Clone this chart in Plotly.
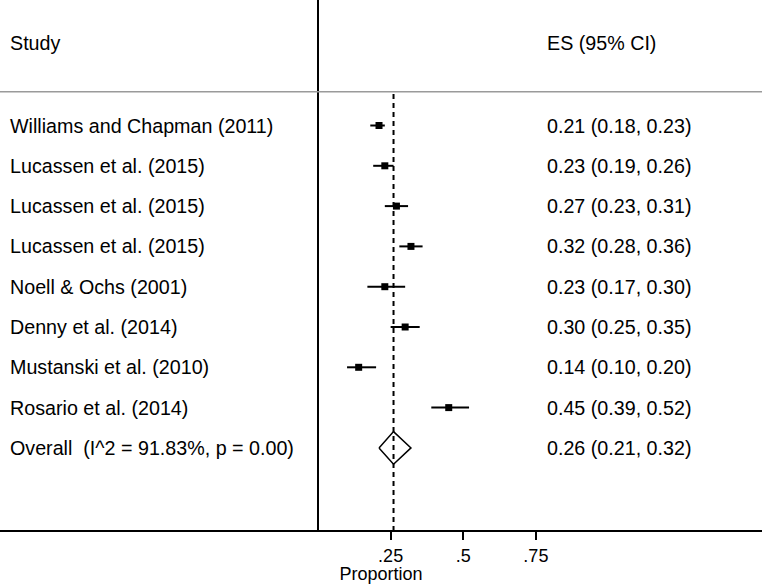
import plotly.graph_objects as go

# study-level estimates (proportion, 95% CI)
studies = [
    "Williams and Chapman (2011)",
    "Lucassen et al. (2015)",
    "Lucassen et al. (2015)",
    "Lucassen et al. (2015)",
    "Noell & Ochs (2001)",
    "Denny et al. (2014)",
    "Mustanski et al. (2010)",
    "Rosario et al. (2014)",
]
es = [0.21, 0.23, 0.27, 0.32, 0.23, 0.30, 0.14, 0.45]
ci_lo = [0.18, 0.19, 0.23, 0.28, 0.17, 0.25, 0.10, 0.39]
ci_hi = [0.23, 0.26, 0.31, 0.36, 0.30, 0.35, 0.20, 0.52]

overall_label = "Overall\u00a0\u00a0(I^2 = 91.83%, p = 0.00)"
overall_es = 0.26
overall_lo = 0.21
overall_hi = 0.32

tick_vals = [0.25, 0.5, 0.75]
tick_text = [".25", ".5", ".75"]

# page geometry (pixels)
W, H = 762, 584
PLOT_BOTTOM = 530
X0_PX = 318.0      # pixel of x = 0
PX_PER_UNIT = 290.5
ROW0_PX = 125.5    # pixel of first study row
ROW_PX = 40.3

def row_of(py):
    return (py - ROW0_PX) / ROW_PX

x_range = [-X0_PX / PX_PER_UNIT, (W - X0_PX) / PX_PER_UNIT]
y_range = [row_of(PLOT_BOTTOM), row_of(0)]

FONT = "Liberation Sans, Arial, sans-serif"
FS = 19.7
AXIS_FS = 18

rows = list(range(len(studies)))
overall_row = len(studies)

fig = go.Figure()

# study markers with CIs
fig.add_trace(go.Scatter(
    x=es, y=rows, mode="markers",
    marker=dict(symbol="square", size=7, color="black"),
    error_x=dict(type="data", symmetric=False,
                 array=[h - e for h, e in zip(ci_hi, es)],
                 arrayminus=[e - l for e, l in zip(es, ci_lo)],
                 width=0, thickness=2, color="black"),
    hoverinfo="skip", showlegend=False,
))

# overall diamond
dh = 0.405
fig.add_trace(go.Scatter(
    x=[overall_lo, overall_es, overall_hi, overall_es, overall_lo],
    y=[overall_row, overall_row - dh, overall_row, overall_row + dh, overall_row],
    mode="lines", line=dict(color="black", width=1.5),
    hoverinfo="skip", showlegend=False,
))

# zero line
fig.add_shape(type="line", xref="x", yref="paper", x0=0, x1=0, y0=0, y1=1,
              line=dict(color="black", width=2))
# header separator
fig.add_shape(type="line", xref="paper", yref="y", x0=0, x1=1,
              y0=row_of(91.7), y1=row_of(91.7),
              line=dict(color="#9a9a9a", width=1.5))
# overall effect dashed line
fig.add_shape(type="line", xref="x", yref="y", x0=overall_es, x1=overall_es,
              y0=row_of(94), y1=y_range[0],
              line=dict(color="black", width=2, dash="5px,4px"))

# text columns
ann = []
LEFT_X = 8 / W
RIGHT_X = 545 / W
hdr = row_of(42.7)
ann.append(dict(text="Study", x=LEFT_X, y=hdr))
ann.append(dict(text="ES (95% CI)", x=RIGHT_X, y=hdr))
for r, name, e, lo, hi in zip(rows, studies, es, ci_lo, ci_hi):
    ann.append(dict(text=name, x=LEFT_X, y=r))
    ann.append(dict(text=f"{e:.2f} ({lo:.2f}, {hi:.2f})", x=RIGHT_X, y=r))
ann.append(dict(text=overall_label, x=LEFT_X, y=overall_row))
ann.append(dict(text=f"{overall_es:.2f} ({overall_lo:.2f}, {overall_hi:.2f})",
                x=RIGHT_X, y=overall_row))
for a in ann:
    a.update(xref="paper", yref="y", xanchor="left", yanchor="middle",
             showarrow=False, font=dict(family=FONT, size=FS, color="black"))
fig.update_layout(annotations=ann)

fig.update_xaxes(
    range=x_range, showgrid=False, zeroline=False,
    showline=True, linecolor="black", linewidth=2,
    ticks="outside", ticklen=8, tickwidth=1.5, tickcolor="black",
    tickvals=tick_vals, ticktext=tick_text,
    tickfont=dict(family=FONT, size=AXIS_FS, color="black"),
    title=dict(text="Proportion", font=dict(family=FONT, size=AXIS_FS, color="black"),
               standoff=3),
)
fig.update_yaxes(range=y_range, visible=False)

fig.update_layout(
    width=W, height=H,
    margin=dict(l=0, r=0, t=0, b=H - PLOT_BOTTOM, pad=0),
    plot_bgcolor="white", paper_bgcolor="white",
    font=dict(family=FONT, size=FS, color="black"),
)

# drop the browser's default body margin so the figure sits at the page corner
fig.write_html("out.html", config={"displayModeBar": False},
               post_script="document.body.style.margin = '0';")
